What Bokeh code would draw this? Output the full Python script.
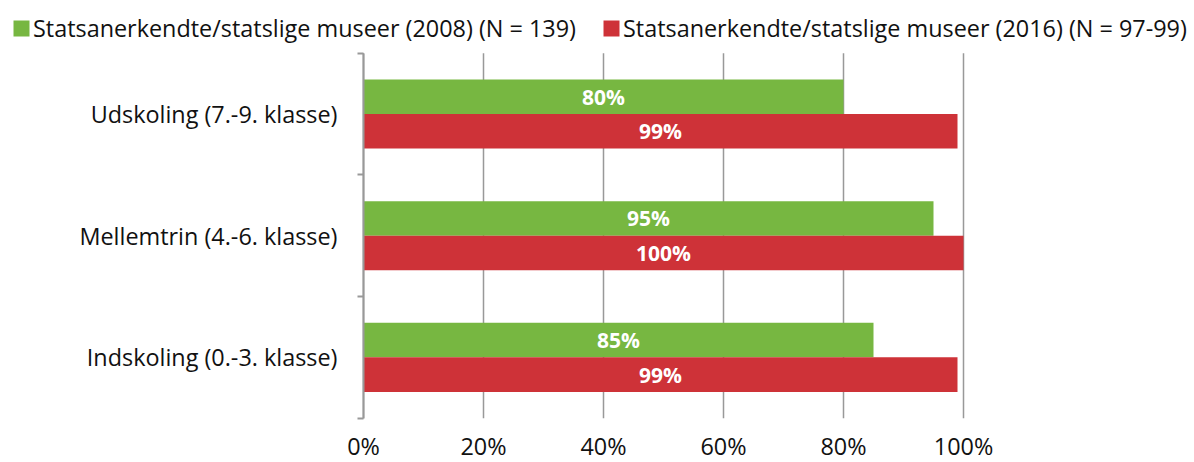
from bokeh.plotting import figure
from bokeh.models import (ColumnDataSource, FixedTicker, Legend, LegendItem, LabelSet,
                          Range1d, PrintfTickFormatter)
from bokeh.core.properties import value
from bokeh.embed import file_html
from bokeh.resources import INLINE

# ---- data ----
categories = ["Indskoling (0.-3. klasse)", "Mellemtrin (4.-6. klasse)", "Udskoling (7.-9. klasse)"]
values_2008 = [85, 95, 80]
values_2016 = [99, 100, 99]
series_names = ["Statsanerkendte/statslige museer (2008) (N = 139)",
                "Statsanerkendte/statslige museer (2016) (N = 97-99)"]
x_ticks = [0, 20, 40, 60, 80, 100]

# ---- styles / layout ----
GREEN = "#77B741"
RED = "#CE3238"
GRID = "#999999"
FONT = "Open Sans"
TXT = "#111111"
FS = "23.4px"
BAR_H = 0.284
OFF = 0.142
W, H = 1194, 462
PX_PER_PCT = 6.0          # 600 px for 0..100 %
LEFT_PX, RIGHT_PX = 363, 231
TOP_PX, BOTTOM_PX = 52.7, 417.7
N = len(categories)
BAND_PX = (BOTTOM_PX - TOP_PX) / N

centers = [i + 0.5 for i in range(N)]
src08 = ColumnDataSource(dict(y=[c + OFF for c in centers], v=values_2008,
                              mid=[v / 2 for v in values_2008],
                              lab=[f"{v}%" for v in values_2008]))
src16 = ColumnDataSource(dict(y=[c - OFF for c in centers], v=values_2016,
                              mid=[v / 2 for v in values_2016],
                              lab=[f"{v}%" for v in values_2016]))
grid_src = ColumnDataSource(dict(x=x_ticks, y0=[0] * len(x_ticks), y1=[N] * len(x_ticks)))

x_range = Range1d(-LEFT_PX / PX_PER_PCT, 100 + RIGHT_PX / PX_PER_PCT)
y_range = Range1d(-(H - BOTTOM_PX) / BAND_PX, N + TOP_PX / BAND_PX)

p = figure(width=W, height=H, output_backend="svg", toolbar_location=None,
           x_range=x_range, y_range=y_range, min_border=0)
p.outline_line_color = None
p.xgrid.grid_line_color = None
p.ygrid.grid_line_color = None

# gridlines only over the category area
p.segment(x0="x", y0="y0", x1="x", y1="y1", source=grid_src, line_color=GRID, line_width=1.5)

r08 = p.hbar(y="y", left=0, right="v", height=BAR_H, source=src08, fill_color=GREEN, line_color=None)
r16 = p.hbar(y="y", left=0, right="v", height=BAR_H, source=src16, fill_color=RED, line_color=None)

for src in (src08, src16):
    p.add_layout(LabelSet(x="mid", y="y", text="lab", source=src, text_align="center",
                          text_baseline="middle", text_color="white", text_font=value(FONT),
                          text_font_style="bold", text_font_size="21px"))

# x axis, pinned at the bottom of the category area
p.xaxis.fixed_location = 0
p.xaxis.bounds = (0, 100)
p.xaxis.ticker = FixedTicker(ticks=x_ticks)
p.xaxis.formatter = PrintfTickFormatter(format="%d%%")
p.xaxis.axis_line_color = None
p.xaxis.major_tick_line_color = None
p.xaxis.minor_tick_line_color = None
p.xaxis.major_tick_out = 0
p.xaxis.minor_tick_out = 0
p.xaxis.major_label_text_font = FONT
p.xaxis.major_label_text_font_size = FS
p.xaxis.major_label_text_color = TXT
p.xaxis.major_label_standoff = 12

# y axis, pinned at 0 %
p.yaxis.fixed_location = 0
p.yaxis.bounds = (0, N)
p.yaxis.ticker = FixedTicker(ticks=centers, minor_ticks=[float(i) for i in range(N + 1)])
p.yaxis.major_label_overrides = {c: name for c, name in zip(centers, categories)}
p.yaxis.axis_line_color = GRID
p.yaxis.axis_line_width = 2
p.yaxis.major_tick_line_color = None
p.yaxis.major_tick_out = 0
p.yaxis.major_tick_in = 0
p.yaxis.minor_tick_line_color = GRID
p.yaxis.minor_tick_line_width = 2
p.yaxis.minor_tick_in = 0
p.yaxis.minor_tick_out = 6
p.yaxis.major_label_text_font = FONT
p.yaxis.major_label_text_font_size = FS
p.yaxis.major_label_text_color = TXT
p.yaxis.major_label_standoff = 20

for r, name, xloc in [(r08, series_names[0], 11), (r16, series_names[1], 601)]:
    lg = Legend(items=[LegendItem(label=name, renderers=[r])], location=(xloc, H - 28 - 16),
                orientation="horizontal", padding=0, margin=0, border_line_color=None,
                background_fill_alpha=0, glyph_width=20, glyph_height=20, label_standoff=2,
                label_text_font=FONT, label_text_font_size=FS, label_text_color=TXT)
    p.add_layout(lg, "center")

open("out.html", "w").write(file_html(p, INLINE))
